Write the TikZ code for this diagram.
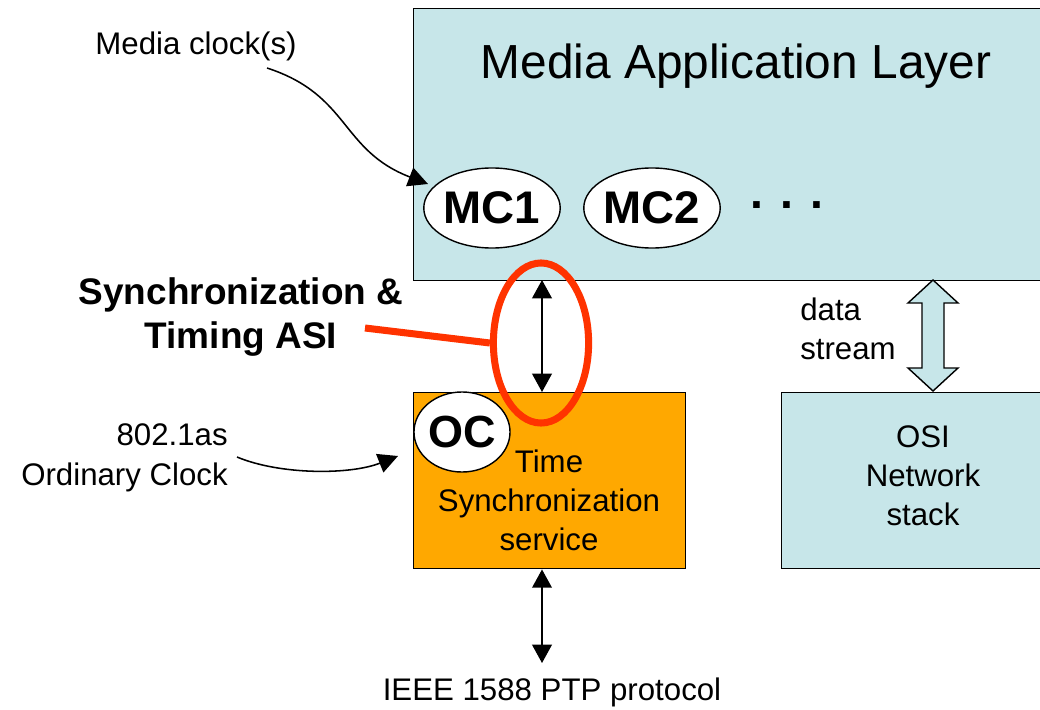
\documentclass[tikz,border=0pt]{standalone}
\usepackage{fontspec}
\setmainfont{Liberation Sans}
\usetikzlibrary{arrows.meta,shapes.geometric,calc}

\definecolor{layerblue}{RGB}{199,230,233}
\definecolor{syncorange}{RGB}{255,168,0}
\definecolor{asired}{RGB}{255,51,0}

\newcommand{\txtsize}{\fontsize{22.2pt}{27pt}\selectfont}

\tikzset{
  layerbox/.style={draw=black, line width=1pt, rectangle, inner sep=0pt, anchor=north west},
  clockoval/.style={draw=black, line width=1pt, fill=white, ellipse, inner sep=0pt},
  plainlabel/.style={font=\txtsize, inner sep=0pt, align=center},
  thinarrow/.style={line width=1.1pt, {Triangle[length=13pt,width=14pt]}-{Triangle[length=13pt,width=14pt]}},
  pointer/.style={line width=1.1pt, -{Triangle[length=14pt,width=14pt]}},
}

\begin{document}
\begin{tikzpicture}[x=0.025cm, y=-0.025cm]
  \useasboundingbox (0,0) rectangle (1040,710);
  \clip (0,0) rectangle (1040,710);

  % layers
  \node[layerbox, fill=layerblue, minimum width=16cm, minimum height=6.8cm] (mal) at (413,8) {};
  \node[font=\fontsize{34pt}{40pt}\selectfont, inner sep=0pt] (maltitle) at (736,66) {Media Application Layer};

  \node[clockoval, minimum width=3.2cm, minimum height=2cm, font=\bfseries\fontsize{32.5pt}{36pt}\selectfont] (mc1) at (492,208) {MC1};
  \node[clockoval, minimum width=3.2cm, minimum height=2cm, font=\bfseries\fontsize{32.5pt}{36pt}\selectfont] (mc2) at (652,208) {MC2};
  \node[anchor=base, inner sep=0pt, font=\bfseries\fontsize{33pt}{40pt}\selectfont] (moredots) at (787,208) {. . .};

  \node[layerbox, fill=syncorange, minimum width=6.8cm, minimum height=4.4cm] (ts) at (413,392) {};
  \node[layerbox, fill=layerblue, minimum width=6.8cm, minimum height=4.4cm] (osi) at (781,392) {};

  \node[clockoval, minimum width=2.4cm, minimum height=2cm, font=\bfseries\fontsize{32pt}{36pt}\selectfont] (oc) at (462,432) {OC};

  \node[plainlabel] (tstext) at (549,500) {\txtsize Time\\[0.8pt]Synchronization\\[0.8pt]service};
  \node[plainlabel] (ositext) at (923,476) {\txtsize OSI\\[0.8pt]Network\\[0.8pt]stack};
  \node[plainlabel, anchor=west, align=left] (datalab) at (800,329) {\txtsize data\\[0.8pt]stream};

  % outside labels
  \node[plainlabel] (mclab) at (196,46) {Media clock(s)};
  \node[plainlabel, anchor=east, align=right] (oclab) at (228,458) {\txtsize 802.1as\\[1.5pt]Ordinary Clock};
  \node[plainlabel] (ieee) at (552,692) {IEEE 1588 PTP protocol};
  \node[inner sep=0pt, align=center, font=\bfseries\fontsize{26.3pt}{31.3pt}\selectfont] (asilab) at (241,317) {Synchronization \&\\Timing ASI};

  % connector ends
  \coordinate (mcstart) at (267,68);
  \coordinate (mcend) at (428,184);
  \coordinate (ocstart) at (237,457);
  \coordinate (ocend) at (398,456);
  \coordinate (syncx) at (542,280);
  \coordinate (ptpend) at (542,663);
  \coordinate (redstart) at (365,328);

  % sync interface arrow
  \draw[thinarrow] (syncx) -- (syncx |- ts.north);
  % PTP arrow
  \draw[thinarrow] (syncx |- ts.south) -- (ptpend);

  % data stream block arrow
  \draw[line width=1pt, fill=layerblue]
    (933,280) -- (958,303) -- (944,303) -- (944,368) -- (958,368) -- (933,391)
    -- (908,368) -- (922,368) -- (922,303) -- (908,303) -- cycle;

  % pointers from labels
  \draw[pointer] (mcstart) .. controls (350,95) and (340,150) .. (mcend);
  \draw[pointer] (ocstart) .. controls (280,475) and (350,475) .. (ocend);

  % highlighted interface
  \node[draw=asired, line width=5pt, ellipse, minimum width=2.38cm, minimum height=4cm, inner sep=0pt] (asi) at (541,343) {};
  \draw[asired, line width=5pt] (redstart) -- (asi.west);
\end{tikzpicture}
\end{document}
